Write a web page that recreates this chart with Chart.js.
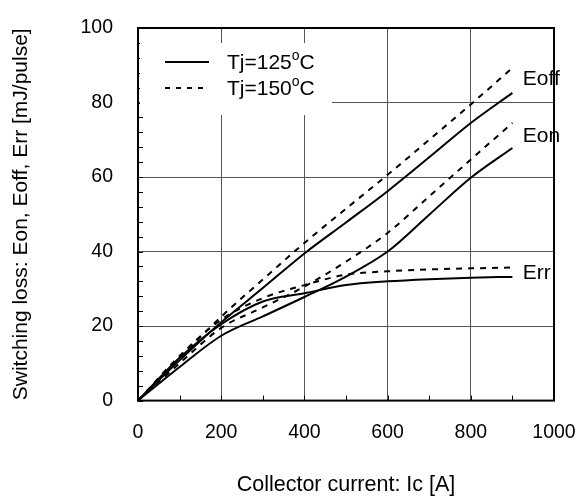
<!DOCTYPE html>
<html>
<head>
<meta charset="utf-8">
<script src="https://cdn.jsdelivr.net/npm/chart.js@4"></script>
<style>
  html, body { margin: 0; padding: 0; background: #fff; }
  #wrap { width: 587px; height: 499px; }
</style>
</head>
<body>
<div id="wrap"><canvas id="grafica" width="587" height="499"></canvas></div>
<script>
// Collector current [A]
const corriente = [0, 100, 200, 300, 400, 500, 600, 700, 800, 900];

// Switching loss [mJ/pulse]
const eoff125 = [0, 10.8, 21, 30.2, 39.5, 47.8, 56.2, 65.3, 74.5, 82.6];
const eoff150 = [0, 11.5, 22.5, 32.5, 42.3, 51.5, 60.6, 70, 79.5, 89.3];
const eon125 = [0, 9, 17.4, 22.6, 27.8, 33.3, 40, 49.9, 59.8, 67.8];
const eon150 = [0, 10, 19.5, 25, 30.6, 37.3, 45, 54.8, 64.7, 74.5];
const err125 = [0, 11.5, 20.5, 26.6, 28.8, 31, 32, 32.6, 33, 33.2];
const err150 = [0, 12, 21.7, 27.5, 31, 33.8, 34.7, 35.2, 35.5, 35.7];

const xTicks = [0, 200, 400, 600, 800, 1000];
const yTicks = [0, 20, 40, 60, 80, 100];

// etiquetas al final de cada curva: [texto, x, y]
const etiquetas = [['Eoff', 925, 86.2], ['Eon', 925, 70.9], ['Err', 925, 34.3]];
const leyenda = [['Tj=125', 'C', false], ['Tj=150', 'C', true]];

const FUENTE = '"Liberation Sans", Arial, sans-serif';
const DASH = [6, 6];

function serie(valores, discontinua) {
  return {
    data: corriente.map((c, i) => ({ x: c, y: valores[i] })),
    borderColor: '#000',
    borderWidth: 2,
    borderDash: discontinua ? DASH : [],
    pointRadius: 0,
    fill: false,
    cubicInterpolationMode: 'monotone'
  };
}

const extras = {
  id: 'extras',
  beforeDatasetsDraw(chart) {
    const ctx = chart.ctx;
    const a = chart.chartArea;
    const xs = chart.scales.x, ys = chart.scales.y;
    ctx.save();
    // ticks menores hacia dentro
    ctx.strokeStyle = '#000';
    ctx.lineWidth = 1;
    ctx.beginPath();
    for (let v = 0; v <= 100; v += 4) {
      const py = Math.round(ys.getPixelForValue(v)) + 0.5;
      ctx.moveTo(a.left, py);
      ctx.lineTo(a.left + 5, py);
    }
    for (let v = 100; v < 1000; v += 100) {
      const px = Math.round(xs.getPixelForValue(v)) + 0.5;
      ctx.moveTo(px, a.bottom);
      ctx.lineTo(px, a.bottom - 5);
    }
    ctx.stroke();

    // caja de la leyenda
    ctx.fillStyle = '#fff';
    ctx.fillRect(a.left + 2, 43, 192, 72);
    ctx.strokeStyle = '#000';
    ctx.lineWidth = 2;
    leyenda.forEach(([t, u, disc], i) => {
      const y = 62 + i * 26;
      ctx.setLineDash(disc ? [5, 6] : []);
      ctx.beginPath();
      ctx.moveTo(165, y);
      ctx.lineTo(209, y);
      ctx.stroke();
      ctx.setLineDash([]);
      ctx.fillStyle = '#000';
      ctx.textBaseline = 'middle';
      ctx.textAlign = 'left';
      ctx.font = '21px ' + FUENTE;
      let x = 227;
      ctx.fillText(t, x, y + 1);
      x += ctx.measureText(t).width;
      ctx.font = '14px ' + FUENTE;
      ctx.fillText('o', x, y - 6);
      x += ctx.measureText('o').width;
      ctx.font = '21px ' + FUENTE;
      ctx.fillText(u, x, y + 1);
    });
    ctx.restore();
  },
  afterDraw(chart) {
    const ctx = chart.ctx;
    const a = chart.chartArea;
    const xs = chart.scales.x, ys = chart.scales.y;
    ctx.save();
    ctx.strokeStyle = '#000';
    ctx.lineWidth = 2;
    ctx.strokeRect(a.left, a.top, a.right - a.left, a.bottom - a.top);
    ctx.fillStyle = '#000';
    ctx.font = '21px ' + FUENTE;
    ctx.textAlign = 'left';
    ctx.textBaseline = 'middle';
    for (const [t, x, y] of etiquetas) {
      ctx.fillText(t, xs.getPixelForValue(x), ys.getPixelForValue(y));
    }
    ctx.restore();
  }
};

new Chart(document.getElementById('grafica').getContext('2d'), {
  type: 'line',
  data: {
    datasets: [
      serie(eoff125, false), serie(eoff150, true),
      serie(eon125, false), serie(eon150, true),
      serie(err125, false), serie(err150, true)
    ]
  },
  options: {
    responsive: false,
    animation: false,
    layout: { padding: { top: 28, right: 33, left: 0, bottom: 0 } },
    plugins: { legend: { display: false }, tooltip: { enabled: false } },
    scales: {
      x: {
        type: 'linear',
        min: 0, max: 1000,
        afterBuildTicks: s => { s.ticks = xTicks.map(v => ({ value: v })); },
        afterFit: s => { s.height = 98.4; s.paddingLeft = 0; s.paddingRight = 0; },
        grid: { color: '#555', lineWidth: 1, drawTicks: false },
        border: { display: false },
        ticks: {
          color: '#000', padding: 20, maxRotation: 0, font: { family: FUENTE, size: 19.5 },
          callback: v => String(v)
        },
        title: {
          display: true, text: 'Collector current: Ic [A]', color: '#000',
          font: { family: FUENTE, size: 21.5 }, padding: { top: 0, bottom: 1 }
        }
      },
      y: {
        type: 'linear',
        min: 0, max: 100,
        afterBuildTicks: s => { s.ticks = yTicks.map(v => ({ value: v })); },
        afterFit: s => { s.width = 138; s.paddingTop = 0; s.paddingBottom = 0; },
        grid: { color: '#555', lineWidth: 1, drawTicks: false },
        border: { display: false },
        ticks: { color: '#000', padding: 25, font: { family: FUENTE, size: 19.5 } },
        title: {
          display: true, text: 'Switching loss: Eon, Eoff, Err [mJ/pulse]', color: '#000',
          font: { family: FUENTE, size: 21 }, padding: { top: 9, bottom: 0 }
        }
      }
    }
  },
  plugins: [extras]
});
</script>
</body>
</html>
